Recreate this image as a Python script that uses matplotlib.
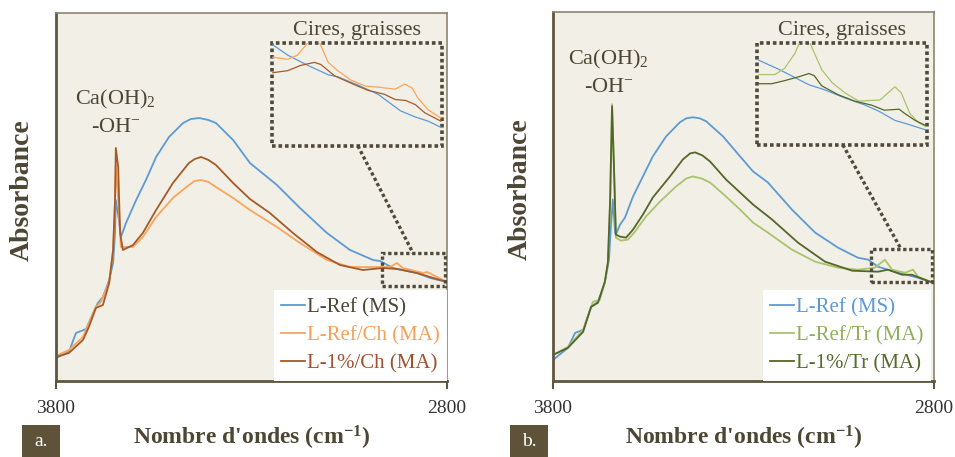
# FTIR spectra (OH region) - lime mortars, panels a (Ch) and b (Tr)
import matplotlib.pyplot as plt
from matplotlib.patches import Rectangle

plt.rcParams['font.family'] = 'Liberation Serif'
plt.rcParams['mathtext.fontset'] = 'custom'
plt.rcParams['mathtext.rm'] = 'Liberation Serif'
plt.rcParams['mathtext.it'] = 'Liberation Serif:italic'
plt.rcParams['mathtext.bf'] = 'Liberation Serif:bold'

# ---- panel a : wavenumbers (cm-1) and absorbance (a.u.)
a_ref_wn = [3800, 3767, 3749, 3723, 3705, 3693, 3680, 3664, 3654, 3649, 3647, 3639, 3634, 3621, 3595, 3570,
            3544, 3511, 3475, 3455, 3434, 3410, 3391, 3347, 3304, 3235, 3176, 3107, 3048, 2989, 2971, 2938,
            2877, 2843, 2800]
a_ref_abs = [0.23, 0.29, 0.48, 0.52, 0.68, 0.78, 0.84, 1.01, 1.18, 1.48, 1.81, 1.61, 1.44, 1.58, 1.81, 2.01,
             2.24, 2.44, 2.58, 2.62, 2.63, 2.61, 2.58, 2.41, 2.18, 1.96, 1.73, 1.48, 1.31, 1.21, 1.20, 1.13,
             1.08, 1.03, 0.99]
a_refch_wn = [3800, 3767, 3731, 3716, 3698, 3685, 3664, 3654, 3649, 3647, 3641, 3634, 3603, 3578, 3544, 3501,
              3460, 3445, 3429, 3410, 3391, 3347, 3304, 3235, 3176, 3107, 3048, 2989, 2946, 2928, 2913, 2861,
              2851, 2800]
a_refch_abs = [0.25, 0.31, 0.44, 0.58, 0.74, 0.79, 0.99, 1.31, 1.81, 2.16, 1.81, 1.34, 1.34, 1.44, 1.64, 1.83,
               1.96, 2.00, 2.01, 1.99, 1.94, 1.83, 1.71, 1.54, 1.38, 1.21, 1.14, 1.14, 1.14, 1.18, 1.13, 1.08,
               1.09, 0.99]
a_1ch_wn = [3800, 3767, 3731, 3716, 3698, 3680, 3664, 3654, 3649, 3647, 3641, 3636, 3629, 3603, 3578, 3544,
            3501, 3460, 3445, 3429, 3410, 3391, 3347, 3304, 3253, 3194, 3133, 3074, 3015, 2964, 2928, 2877,
            2843, 2800]
a_1ch_abs = [0.24, 0.28, 0.41, 0.54, 0.73, 0.76, 0.98, 1.31, 1.81, 2.33, 2.14, 1.48, 1.31, 1.36, 1.48, 1.71,
             1.98, 2.18, 2.22, 2.24, 2.21, 2.16, 1.98, 1.82, 1.68, 1.48, 1.29, 1.16, 1.11, 1.13, 1.12, 1.08,
             1.04, 0.99]

# zoom "Cires, graisses" (2965-2805 cm-1), relative absorbance
ins_a_ref_wn = [2964, 2950, 2931, 2912, 2903, 2884, 2865, 2844, 2830, 2818, 2806]
ins_a_ref_abs = [0.98, 0.88, 0.78, 0.69, 0.67, 0.59, 0.50, 0.34, 0.28, 0.24, 0.18]
ins_a_refch_wn = [2964, 2950, 2941, 2931, 2925, 2920, 2912, 2903, 2891, 2877, 2865, 2849, 2840, 2833, 2828, 2818, 2806]
ins_a_refch_abs = [0.86, 0.84, 0.88, 1.00, 1.13, 1.00, 0.81, 0.73, 0.64, 0.58, 0.57, 0.55, 0.60, 0.56, 0.47, 0.35, 0.27]
ins_a_1ch_wn = [2964, 2950, 2938, 2925, 2919, 2906, 2891, 2875, 2859, 2849, 2839, 2830, 2821, 2806]
ins_a_1ch_abs = [0.71, 0.73, 0.78, 0.81, 0.79, 0.68, 0.61, 0.54, 0.50, 0.45, 0.44, 0.40, 0.32, 0.24]

# ---- panel b
b_ref_wn = [3800, 3761, 3742, 3721, 3700, 3682, 3664, 3653, 3648, 3643, 3637, 3635, 3624, 3611, 3590, 3564, 3538,
            3503, 3467, 3450, 3433, 3415, 3398, 3354, 3309, 3275, 3236, 3173, 3112, 3052, 3000, 2973, 2947, 2894,
            2842, 2803]
b_ref_abs = [0.21, 0.33, 0.48, 0.51, 0.74, 0.79, 0.98, 1.21, 1.54, 1.81, 1.48, 1.46, 1.56, 1.63, 1.84, 2.04, 2.24,
             2.44, 2.58, 2.62, 2.63, 2.62, 2.59, 2.44, 2.24, 2.09, 1.98, 1.71, 1.48, 1.33, 1.23, 1.21, 1.14, 1.08,
             1.03, 0.98]
b_reftr_wn = [3800, 3761, 3721, 3695, 3677, 3664, 3656, 3650, 3645, 3640, 3635, 3622, 3603, 3585, 3556, 3519, 3477,
              3450, 3433, 3410, 3388, 3346, 3309, 3275, 3236, 3173, 3112, 3052, 3000, 2955, 2929, 2910, 2876, 2855,
              2842, 2803]
b_reftr_abs = [0.26, 0.34, 0.51, 0.79, 0.81, 0.98, 1.18, 1.81, 2.76, 2.14, 1.43, 1.40, 1.41, 1.49, 1.64, 1.79, 1.94,
               2.02, 2.04, 2.02, 1.98, 1.84, 1.71, 1.58, 1.48, 1.31, 1.19, 1.13, 1.11, 1.13, 1.21, 1.11, 1.08, 1.11,
               1.04, 0.98]
b_1tr_wn = [3800, 3761, 3721, 3700, 3682, 3664, 3656, 3650, 3645, 3640, 3635, 3624, 3608, 3590, 3564, 3538, 3493,
            3459, 3440, 3427, 3408, 3388, 3346, 3309, 3275, 3225, 3157, 3086, 3015, 2947, 2921, 2884, 2858, 2831, 2803]
b_1tr_abs = [0.26, 0.33, 0.49, 0.74, 0.78, 0.99, 1.18, 1.81, 2.74, 2.14, 1.46, 1.44, 1.43, 1.51, 1.66, 1.83, 2.04,
             2.21, 2.27, 2.28, 2.25, 2.19, 2.01, 1.88, 1.76, 1.61, 1.38, 1.19, 1.10, 1.09, 1.11, 1.06, 1.06, 1.02, 0.98]

ins_b_ref_wn = [2963, 2944, 2929, 2916, 2901, 2882, 2863, 2850, 2835, 2822, 2807]
ins_b_ref_abs = [0.83, 0.74, 0.66, 0.59, 0.54, 0.46, 0.39, 0.33, 0.24, 0.20, 0.15]
ins_b_reftr_wn = [2963, 2948, 2939, 2929, 2925, 2920, 2915, 2904, 2894, 2882, 2869, 2849, 2835, 2829, 2821, 2813, 2806]
ins_b_reftr_abs = [0.69, 0.69, 0.75, 0.90, 1.00, 1.13, 1.00, 0.74, 0.61, 0.51, 0.43, 0.44, 0.57, 0.51, 0.31, 0.22, 0.18]
ins_b_1tr_wn = [2963, 2951, 2939, 2925, 2916, 2911, 2904, 2888, 2873, 2857, 2845, 2831, 2826, 2816, 2806]
ins_b_1tr_abs = [0.60, 0.60, 0.63, 0.67, 0.70, 0.68, 0.58, 0.49, 0.43, 0.39, 0.34, 0.35, 0.31, 0.24, 0.19]

labels_a = ['L-Ref (MS)', 'L-Ref/Ch (MA)', 'L-1%/Ch (MA)']
labels_b = ['L-Ref (MS)', 'L-Ref/Tr (MA)', 'L-1%/Tr (MA)']
x_ticks = [3800, 2800]
zoom_range = (2965, 2805)

BLUE = '#5B9BD5'
ORANGE = '#F9A65A'
BROWN = '#A65A28'
LGREEN = '#A9C46C'
DGREEN = '#546628'
TXT = '#4D4634'
DOTC = '#4F4A3A'
BG = '#F2EFE6'
DOTS = (0, (1, 0.8))

fig = plt.figure(figsize=(9.55, 4.57), dpi=100)


def draw_panel(rect, curves, inset_curves, leg_colors, box_y, inset_rect, leg_anchor, ca_pos, letter, letter_x):
    ax = fig.add_axes(rect)
    ax.set_facecolor(BG)
    for wn, ab, col, lab in curves:
        ax.plot(wn, ab, color=col, lw=1.3, label=lab)
    ax.set_xlim(3800, 2800)
    ax.set_ylim(0, 3.68)
    ax.set_xticks(x_ticks)
    ax.set_xticklabels([str(t) for t in x_ticks], fontsize=14, color='#333333')
    ax.tick_params(axis='x', direction='out', length=6, width=1.5, color='#5E5740', pad=8)
    ax.set_yticks([])
    for s in ['left', 'bottom']:
        ax.spines[s].set_color('#5E5740')
        ax.spines[s].set_linewidth(2)
    for s in ['top', 'right']:
        ax.spines[s].set_color('#8C8570')
        ax.spines[s].set_linewidth(1.2)

    ax.text(0.5, -0.155, "Nombre d'ondes (cm$^{\\mathbf{-1}}$)", transform=ax.transAxes, ha='center', va='center',
            fontsize=17, fontweight='bold', color=TXT)
    ax.text(-0.087, 0.52, 'Absorbance', transform=ax.transAxes, ha='center', va='center', rotation=90,
            fontsize=20, fontweight='bold', color=TXT)

    leg = ax.legend(loc='lower right', bbox_to_anchor=leg_anchor, fontsize=15, frameon=True, fancybox=False,
                    borderaxespad=0, borderpad=0.35, handlelength=1.15, handletextpad=0.1, labelspacing=0.42,
                    labelcolor=leg_colors)
    leg.get_frame().set_facecolor('white')
    leg.get_frame().set_edgecolor('none')
    leg.get_frame().set_alpha(1)

    # zoomed region on the spectrum
    ax.add_patch(Rectangle((zoom_range[0], box_y[0]), zoom_range[1] - zoom_range[0], box_y[1] - box_y[0],
                           fill=False, ec=DOTC, lw=2.4, ls=DOTS, zorder=5))

    ins = ax.inset_axes(inset_rect)
    ins.patch.set_alpha(0)
    for wn, ab, col in inset_curves:
        ins.plot(wn, ab, color=col, lw=0.9)
    ins.set_xlim(*zoom_range)
    ins.set_ylim(0, 1)
    ins.set_xticks([])
    ins.set_yticks([])
    for s in ins.spines.values():
        s.set_visible(False)
    ins.add_patch(Rectangle((0, 0), 1, 1, transform=ins.transAxes, fill=False, ec=DOTC, lw=2.6, ls=DOTS,
                            clip_on=False))
    ins.text(0.5, 1.075, 'Cires, graisses', transform=ins.transAxes, ha='center', va='baseline', fontsize=16,
             color=TXT)

    # dotted link between the box and the zoom
    xa, ya = ax.transData.inverted().transform(
        ax.transAxes.transform((inset_rect[0] + 0.506 * inset_rect[2], inset_rect[1])))
    ax.plot([xa, 2887], [ya, box_y[1]], color=DOTC, lw=2.4, ls=DOTS, zorder=5)

    ax.text(ca_pos[0], ca_pos[1], 'Ca(OH)$_2$', transform=ax.transAxes, ha='center', va='center', fontsize=16,
            color=TXT)
    ax.text(ca_pos[0], ca_pos[1] - 0.075, '-OH$^{-}$', transform=ax.transAxes, ha='center', va='center',
            fontsize=16, color=TXT)

    fig.add_artist(Rectangle((letter_x / 955, 0), 38 / 955, 32 / 457, transform=fig.transFigure,
                             fc='#5E5339', ec='none'))
    fig.text((letter_x + 19) / 955, 1 - 441 / 457, letter, ha='center', va='center', fontsize=14, color='white')
    return ax


draw_panel([56 / 955, 1 - 381 / 457, 391 / 955, 368 / 457],
           [(a_ref_wn, a_ref_abs, BLUE, labels_a[0]),
            (a_refch_wn, a_refch_abs, ORANGE, labels_a[1]),
            (a_1ch_wn, a_1ch_abs, BROWN, labels_a[2])],
           [(ins_a_ref_wn, ins_a_ref_abs, BLUE),
            (ins_a_refch_wn, ins_a_refch_abs, ORANGE),
            (ins_a_1ch_wn, ins_a_1ch_abs, BROWN)],
           [TXT, '#F4A15B', '#A0522D'], (0.95, 1.28),
           [0.552, 0.639, 0.435, 0.280], (1, 0), (0.152, 0.764), 'a.', 22)

draw_panel([553 / 955, 1 - 381 / 457, 381 / 955, 369 / 457],
           [(b_ref_wn, b_ref_abs, BLUE, labels_b[0]),
            (b_reftr_wn, b_reftr_abs, LGREEN, labels_b[1]),
            (b_1tr_wn, b_1tr_abs, DGREEN, labels_b[2])],
           [(ins_b_ref_wn, ins_b_ref_abs, BLUE),
            (ins_b_reftr_wn, ins_b_reftr_abs, LGREEN),
            (ins_b_1tr_wn, ins_b_1tr_abs, DGREEN)],
           [BLUE, '#8FB05A', '#556B2F'], (0.99, 1.32),
           [0.535, 0.640, 0.446, 0.276], (0.992, 0), (0.146, 0.870), 'b.', 510)

plt.savefig('out.png', dpi=100)
